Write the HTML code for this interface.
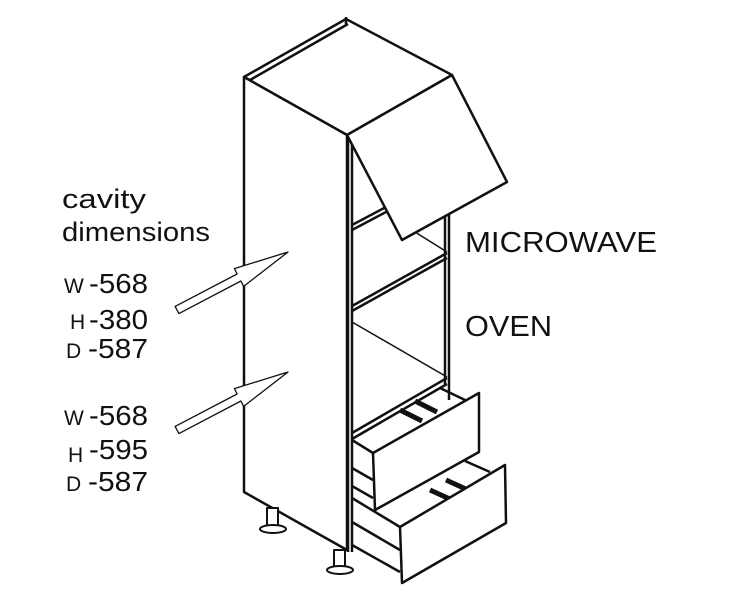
<!DOCTYPE html>
<html><head><meta charset="utf-8"><style>
html,body{margin:0;padding:0;background:#fff;}
svg{display:block}
text{font-family:"Liberation Sans",Arial,sans-serif;fill:#111}
</style></head><body>
<svg width="750" height="600" viewBox="0 0 750 600" xmlns="http://www.w3.org/2000/svg">
<g fill="none" stroke="#111" stroke-width="2.5" stroke-linejoin="round">
<polygon points="244,77 346,19 452,75 347,135" fill="#fff"/>
<line x1="346" y1="17" x2="346" y2="24"/>
<line x1="250" y1="80" x2="348" y2="24"/>
<polygon points="244,77 347,135 347,550 244,492" fill="#fff"/>
<line x1="348" y1="135" x2="348" y2="552"/>
<line x1="352" y1="140" x2="352" y2="552"/>
<line x1="449" y1="205" x2="449" y2="400"/>
<line x1="445" y1="210" x2="445" y2="385"/>
<line x1="352" y1="225" x2="386" y2="207"/>
<line x1="352" y1="230" x2="386" y2="212"/>
<line x1="352" y1="306" x2="447" y2="253"/>
<line x1="352" y1="311" x2="447" y2="258"/>
<line x1="415" y1="232" x2="447" y2="252" stroke-width="1.5"/>
<line x1="352" y1="322" x2="447" y2="377" stroke-width="1.5"/>
<line x1="352" y1="433" x2="447" y2="378"/>
<line x1="352" y1="439" x2="447" y2="384"/>
<polygon points="347,135 452,75 507,182 402,240" fill="#fff"/>
<line x1="352" y1="440" x2="373" y2="453"/>
<line x1="352" y1="468" x2="373" y2="480"/>
<line x1="352" y1="486" x2="373" y2="498"/>
<line x1="440" y1="388" x2="465" y2="400"/>
<line x1="400" y1="410" x2="422" y2="421" stroke-width="5"/>
<line x1="415" y1="401" x2="437" y2="412" stroke-width="5"/>
<polygon points="373,453 479,393 479,452 375,510" fill="#fff"/>
<line x1="352" y1="498" x2="400" y2="527"/>
<line x1="352" y1="522" x2="400" y2="550"/>
<line x1="352" y1="545" x2="400" y2="572"/>
<line x1="465" y1="461" x2="490" y2="472"/>
<line x1="430" y1="490" x2="452" y2="500" stroke-width="5"/>
<line x1="446" y1="480" x2="468" y2="490" stroke-width="5"/>
<polygon points="400,527 505,465 506,523 402,583" fill="#fff"/>
<g stroke-width="2" fill="#fff">
<rect x="267" y="508" width="11" height="22"/>
<ellipse cx="273" cy="529" rx="13" ry="4"/>
<rect x="334" y="550" width="11" height="20"/>
<ellipse cx="340" cy="570" rx="13" ry="4"/>
</g>
<g stroke-width="1.3" fill="#fff">
<polygon points="178.9,313.6 175.1,306.4 237.1,274 234.4,268.6 288,252 243.6,286.4 240.9,281"/>
<polygon points="178.9,433.6 175.1,426.4 237.1,394 234.4,388.6 288,372 243.6,406.4 240.9,401"/>
</g>
</g>
<g font-size="27">
<text x="62" y="208" textLength="84" lengthAdjust="spacingAndGlyphs">cavity</text>
<text x="62" y="241" textLength="148" lengthAdjust="spacingAndGlyphs">dimensions</text>
</g>
<g font-size="28">
<text x="64" y="293" font-size="21">W</text><text x="89" y="293" textLength="59" lengthAdjust="spacingAndGlyphs">-568</text>
<text x="70" y="329" font-size="21">H</text><text x="89" y="329" textLength="59" lengthAdjust="spacingAndGlyphs">-380</text>
<text x="66" y="358" font-size="21">D</text><text x="88" y="358" textLength="60" lengthAdjust="spacingAndGlyphs">-587</text>
<text x="64" y="425" font-size="21">W</text><text x="89" y="425" textLength="59" lengthAdjust="spacingAndGlyphs">-568</text>
<text x="68" y="462" font-size="21">H</text><text x="89" y="459" textLength="59" lengthAdjust="spacingAndGlyphs">-595</text>
<text x="66" y="491" font-size="21">D</text><text x="88" y="491" textLength="60" lengthAdjust="spacingAndGlyphs">-587</text>
</g>
<text x="465" y="252" font-size="29" textLength="192" lengthAdjust="spacingAndGlyphs">MICROWAVE</text>
<text x="465" y="336" font-size="29" textLength="87" lengthAdjust="spacingAndGlyphs">OVEN</text>
</svg>
</body></html>
